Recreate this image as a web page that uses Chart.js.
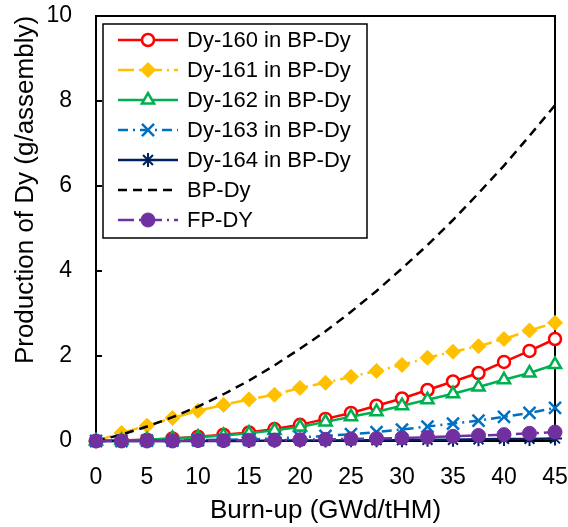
<!DOCTYPE html>
<html>
<head>
<meta charset="utf-8">
<script src="https://cdn.jsdelivr.net/npm/chart.js@4.4.1/dist/chart.umd.min.js"></script>
<style>
  html, body { margin: 0; padding: 0; background: #fff; }
</style>
</head>
<body>
<canvas id="dyChart" width="568" height="527"></canvas>
<script>
// --- data ---
const burnup = [0, 2.5, 5, 7.5, 10, 12.5, 15, 17.5, 20, 22.5, 25, 27.5, 30, 32.5, 35, 37.5, 40, 42.5, 45];
const dy160 = [0, 0.01, 0.03, 0.06, 0.10, 0.15, 0.20, 0.28, 0.38, 0.52, 0.66, 0.83, 1.00, 1.20, 1.40, 1.60, 1.86, 2.12, 2.40];
const dy161 = [0, 0.19, 0.36, 0.54, 0.71, 0.85, 0.98, 1.09, 1.25, 1.37, 1.51, 1.65, 1.79, 1.96, 2.10, 2.23, 2.40, 2.60, 2.78];
const dy162 = [0, 0.01, 0.03, 0.06, 0.09, 0.13, 0.18, 0.25, 0.33, 0.45, 0.57, 0.69, 0.83, 0.97, 1.11, 1.27, 1.44, 1.60, 1.80];
const dy163 = [0, 0, 0.01, 0.01, 0.02, 0.03, 0.04, 0.06, 0.09, 0.12, 0.16, 0.21, 0.27, 0.34, 0.41, 0.48, 0.57, 0.66, 0.78];
const dy164 = [0, 0, 0, 0, 0, 0, 0, 0.01, 0.01, 0.01, 0.02, 0.02, 0.02, 0.03, 0.03, 0.04, 0.05, 0.05, 0.06];
const bpDy  = [0, 0.15, 0.34, 0.56, 0.81, 1.10, 1.42, 1.78, 2.17, 2.58, 3.04, 3.53, 4.06, 4.61, 5.20, 5.83, 6.48, 7.18, 7.90];
const fpDy  = [0, 0, 0, 0, 0.01, 0.01, 0.02, 0.02, 0.03, 0.04, 0.05, 0.06, 0.07, 0.09, 0.11, 0.13, 0.15, 0.18, 0.21];

const seriesNames = ['Dy-160 in BP-Dy', 'Dy-161 in BP-Dy', 'Dy-162 in BP-Dy', 'Dy-163 in BP-Dy', 'Dy-164 in BP-Dy', 'BP-Dy', 'FP-DY'];
const xTitle = 'Burn-up (GWd/tHM)';
const yTitle = 'Production of Dy (g/assembly)';

const FONT = "'Liberation Sans', Arial, sans-serif";

const toPoints = arr => arr.map((v, i) => ({ x: burnup[i], y: v }));

function series(i, data, color, style, extra) {
    return Object.assign({
        label: seriesNames[i],
        data: toPoints(data),
        borderColor: color,
        backgroundColor: color,
        borderWidth: 2.5,
        pointStyle: style,
        pointRadius: 6,
        pointBorderWidth: 2.5,
        pointBorderColor: color,
        pointBackgroundColor: color,
        tension: 0,
        clip: false,
        order: 7 - i
    }, extra);
}

const datasets = [
    series(0, dy160, '#FF0000', 'circle', { pointRadius: 6, pointBackgroundColor: '#fff' }),
    series(1, dy161, '#FFC000', 'rectRot', { borderDash: [16, 5, 2, 5], pointRadius: 7.5, pointBorderWidth: 1 }),
    series(2, dy162, '#00B050', 'triangle', { pointBackgroundColor: '#fff', pointRadius: 7 }),
    series(3, dy163, '#0070C0', 'crossRot', { borderDash: [10, 5, 2, 5], pointRadius: 8.5 }),
    series(4, dy164, '#002060', 'star', { pointRadius: 7, pointBorderWidth: 2 }),
    series(5, bpDy, '#000000', false, { borderDash: [9, 6], pointRadius: 0 }),
    series(6, fpDy, '#7030A0', 'circle', { borderDash: [16, 5, 2, 5], pointRadius: 7, pointBorderWidth: 1 })
];

// plot frame + inward y ticks + axis titles
const framePlugin = {
    id: 'frame',
    beforeDatasetsDraw(chart) {
        const { ctx, chartArea: a, scales } = chart;
        ctx.save();
        ctx.strokeStyle = '#000';
        ctx.lineWidth = 2;
        ctx.strokeRect(a.left, a.top, a.right - a.left, a.bottom - a.top);
        ctx.beginPath();
        scales.y.ticks.forEach(t => {
            const py = scales.y.getPixelForValue(t.value);
            ctx.moveTo(a.left, py);
            ctx.lineTo(a.left + 6, py);
        });
        ctx.stroke();
        ctx.restore();
    },
    afterDraw(chart) {
        const { ctx, chartArea: a } = chart;
        ctx.save();
        ctx.fillStyle = '#000';
        ctx.font = `26px ${FONT}`;
        ctx.textAlign = 'center';
        ctx.textBaseline = 'alphabetic';
        ctx.fillText(xTitle, (a.left + a.right) / 2, 518);
        ctx.translate(33, 190);
        ctx.rotate(-Math.PI / 2);
        ctx.fillText(yTitle, 0, 0);
        ctx.restore();
    }
};

// Excel-style legend box inside the plot area
const legendPlugin = {
    id: 'boxLegend',
    afterDatasetsDraw(chart) {
        const { ctx, chartArea: a } = chart;
        const left = a.left + 7, top = a.top + 8, w = 264, h = 214;
        ctx.save();
        ctx.fillStyle = '#fff';
        ctx.fillRect(left, top, w, h);
        ctx.strokeStyle = '#000';
        ctx.lineWidth = 1.5;
        ctx.strokeRect(left, top, w, h);
        chart.data.datasets.forEach((ds, i) => {
            const y = top + 16 + i * 30;
            const x0 = left + 15, x1 = left + 75, xm = (x0 + x1) / 2;
            ctx.strokeStyle = ds.borderColor;
            ctx.lineWidth = ds.borderWidth;
            ctx.setLineDash(ds.borderDash || []);
            ctx.beginPath();
            ctx.moveTo(x0, y);
            ctx.lineTo(x1, y);
            ctx.stroke();
            ctx.setLineDash([]);
            if (ds.pointStyle && ds.pointRadius > 0) {
                ctx.fillStyle = ds.pointBackgroundColor;
                ctx.strokeStyle = ds.pointBorderColor;
                ctx.lineWidth = ds.pointBorderWidth;
                Chart.helpers.drawPoint(ctx, {
                    pointStyle: ds.pointStyle, radius: ds.pointRadius,
                    rotation: 0, borderWidth: ds.pointBorderWidth
                }, xm, y);
            }
            ctx.fillStyle = '#000';
            ctx.font = `22px ${FONT}`;
            ctx.textAlign = 'left';
            ctx.textBaseline = 'middle';
            ctx.fillText(ds.label, x1 + 9, y + 1);
        });
        ctx.restore();
    }
};

new Chart(document.getElementById('dyChart'), {
    type: 'line',
    data: { datasets },
    options: {
        responsive: false,
        animation: false,
        layout: { padding: { left: 0, top: 16, right: 13, bottom: 0 } },
        plugins: { legend: { display: false }, tooltip: { enabled: false } },
        scales: {
            x: {
                type: 'linear', min: 0, max: 45,
                ticks: { stepSize: 5, color: '#000', padding: 23, font: { family: FONT, size: 23 } },
                grid: { display: false, drawTicks: false },
                border: { display: false },
                afterFit: s => { s.height = 86; s.paddingLeft = 0; s.paddingRight = 0; }
            },
            y: {
                min: 0, max: 10,
                ticks: { stepSize: 2, color: '#000', padding: 24, font: { family: FONT, size: 23 } },
                grid: { display: false, drawTicks: false },
                border: { display: false },
                afterFit: s => { s.width = 96; s.paddingTop = 0; s.paddingBottom = 0; }
            }
        }
    },
    plugins: [framePlugin, legendPlugin]
});
</script>
</body>
</html>
